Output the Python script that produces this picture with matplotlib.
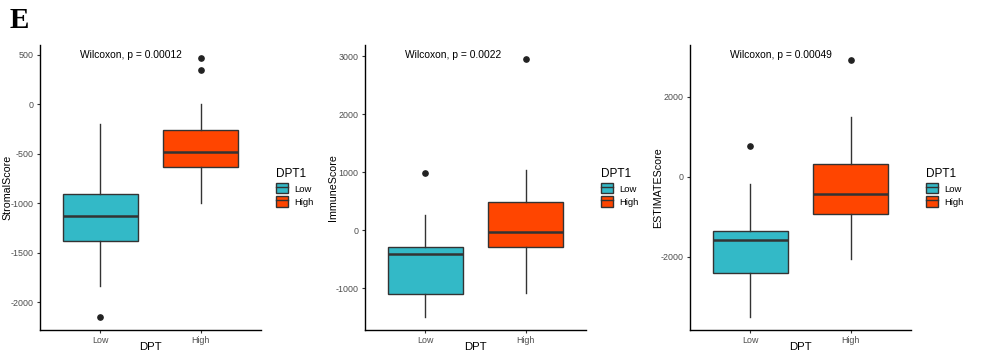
import matplotlib.pyplot as plt
from matplotlib.patches import Patch
from matplotlib.lines import Line2D

plt.rcParams["font.family"] = ["Liberation Sans", "DejaVu Sans"]

groups = ["Low", "High"]
colors = ["#33B9C7", "#FF4500"]

# box stats per panel: (whislo, q1, med, q3, whishi, outliers)
stromal = [(-1840, -1380, -1125, -905, -200, [-2150]),
           (-1000, -635, -480, -255, 0, [470, 350])]
immune = [(-1500, -1100, -420, -300, 260, [980]),
          (-1090, -290, -40, 490, 1030, [2950])]
estimate = [(-3500, -2400, -1570, -1340, -170, [780]),
            (-2050, -930, -420, 330, 1500, [2930])]

panels = [
    ("StromalScore", stromal, "Wilcoxon, p = 0.00012", (-2283, 600), [-2000, -1500, -1000, -500, 0, 500]),
    ("ImmuneScore", immune, "Wilcoxon, p = 0.0022", (-1724, 3190), [-1000, 0, 1000, 2000, 3000]),
    ("ESTIMATEScore", estimate, "Wilcoxon, p = 0.00049", (-3825, 3300), [-2000, 0, 2000]),
]

W, H = 997, 360
fig = plt.figure(figsize=(W / 100, H / 100), dpi=100)
lefts = [40, 365, 690]

for left, (ylab, data, ptxt, ylim, yticks) in zip(lefts, panels):
    ax = fig.add_axes([left / W, 30 / H, 221 / W, 285 / H])
    stats = []
    for g, (lo, q1, med, q3, hi, fl) in zip(groups, data):
        stats.append(dict(label=g, whislo=lo, q1=q1, med=med, q3=q3, whishi=hi, fliers=fl))
    bp = ax.bxp(stats, positions=[1, 2], widths=0.75, patch_artist=True, showcaps=False,
                boxprops=dict(edgecolor="#333333", linewidth=1),
                medianprops=dict(color="#333333", linewidth=1.8),
                whiskerprops=dict(color="#333333", linewidth=1),
                flierprops=dict(marker="o", markerfacecolor="#222222", markeredgecolor="#222222",
                                markersize=3.8))
    for patch, c in zip(bp["boxes"], colors):
        patch.set_facecolor(c)
    ax.set_xlim(0.4, 2.6)
    ax.set_ylim(*ylim)
    ax.set_yticks(yticks)
    ax.set_yticklabels([str(t) for t in yticks])
    ax.spines["top"].set_visible(False)
    ax.spines["right"].set_visible(False)
    for s in ["left", "bottom"]:
        ax.spines[s].set_linewidth(1)
    ax.tick_params(labelsize=6.4, labelcolor="#4D4D4D", length=2.5, width=0.8, color="#333333", pad=2)
    ax.set_xlabel("DPT", fontsize=8.2, va="center")
    ax.xaxis.set_label_coords(0.5, -0.06)
    ax.set_ylabel(ylab, fontsize=7.7, va="center")
    ax.yaxis.set_label_coords(-0.145, 0.5)
    ax.text(0.8, ylim[1] - (ylim[1] - ylim[0]) * 0.035, ptxt, fontsize=7.4, ha="left", va="center")

    handles = []
    for c in colors:
        handles.append((Patch(facecolor=c, edgecolor="#333333", linewidth=1),
                        Line2D([], [], color="#333333", linewidth=1)))
    leg = ax.legend(handles, groups, title="DPT1", loc="center left",
                    bbox_to_anchor=(1.03, 0.5), frameon=False, fontsize=6.8,
                    title_fontsize=8.5, handlelength=1.3, handleheight=1.3,
                    labelspacing=0.3, handletextpad=0.6)
    leg._legend_box.align = "left"

fig.text(10 / W, 1 - 21 / H, "E", fontsize=21, fontweight="bold", family="Liberation Serif",
         ha="left", va="center")

plt.savefig("out.png", dpi=100)
plt.close(fig)
